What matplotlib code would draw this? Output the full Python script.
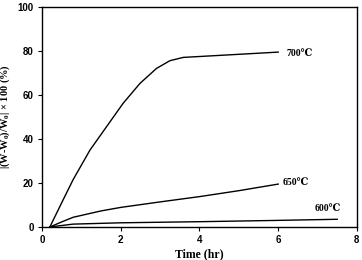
import numpy as np
import matplotlib.pyplot as plt

# curves (time in hr, weight change in %)
t700 = [0.2, 0.5, 0.79, 1.22, 1.64, 2.06, 2.49, 2.91, 3.25, 3.59, 4.0, 5.0, 6.0]
w700 = [0.0, 11.0, 21.5, 35.0, 45.6, 56.2, 65.3, 72.1, 75.6, 77.1, 77.5, 78.5, 79.5]
t650 = [0.2, 0.5, 0.79, 1.5, 2.0, 3.0, 4.0, 5.0, 6.0]
w650 = [0.0, 2.3, 4.4, 7.3, 8.9, 11.4, 13.8, 16.5, 19.5]
t600 = [0.2, 0.79, 2.0, 4.0, 6.0, 7.5]
w600 = [0.0, 1.3, 1.9, 2.4, 3.0, 3.5]
labels = ['700\u2103', '650\u2103', '600\u2103']
label_pos = [(6.55, 79), (6.45, 20), (7.25, 8.5)]

plt.rcParams['mathtext.fontset'] = 'custom'
plt.rcParams['mathtext.rm'] = 'Liberation Serif:bold'
plt.rcParams['mathtext.it'] = 'Liberation Serif:bold'
plt.rcParams['mathtext.bf'] = 'Liberation Serif:bold'

fig = plt.figure(figsize=(3.62, 2.6), dpi=100)
ax = fig.add_axes([0.116, 0.127, 0.870, 0.846])

for t, w in [(t700, w700), (t650, w650), (t600, w600)]:
    ax.plot(t, w, color='black', lw=1.0)

serif = ['Liberation Serif', 'DejaVu Serif']
for lab, (x, y) in zip(labels, label_pos):
    ax.text(x, y, lab, fontsize=7, fontweight='bold', family=serif,
            ha='center', va='center')

ax.set_xlim(0, 8)
ax.set_ylim(0, 100)
ax.set_xticks([0, 2, 4, 6, 8])
ax.set_yticks([0, 20, 40, 60, 80, 100])
ax.tick_params(direction='out', length=3, width=0.8, labelsize=7, pad=3)
for lab in ax.get_xticklabels() + ax.get_yticklabels():
    lab.set_fontweight('bold')
    lab.set_family('Liberation Sans')
for s in ax.spines.values():
    s.set_linewidth(1.0)

ax.set_xlabel('Time (hr)', fontsize=8.5, fontweight='bold', family=serif, labelpad=2)
ax.set_ylabel('|(W-W$_0$)/W$_0$| \u00d7 100 (%)', fontsize=7.5, fontweight='bold',
              family=serif)
ax.yaxis.set_label_coords(-0.095, 0.5)

fig.savefig('out.png', dpi=100)
